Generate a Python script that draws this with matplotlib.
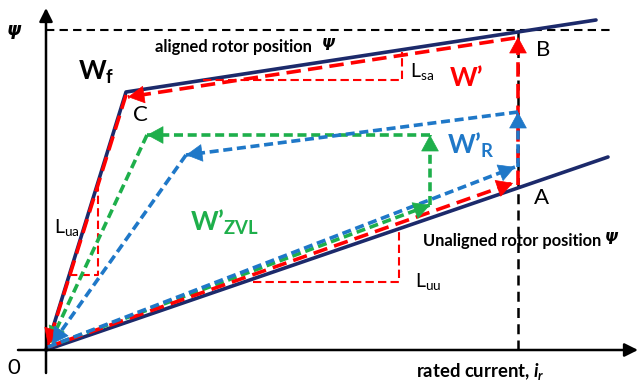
import numpy as np
import matplotlib.pyplot as plt

plt.rcParams['font.family'] = ['Lato', 'DejaVu Sans']
plt.rcParams['mathtext.fontset'] = 'custom'
plt.rcParams['mathtext.rm'] = 'Lato'
plt.rcParams['mathtext.bf'] = 'Lato:bold'
plt.rcParams['mathtext.it'] = 'Lato:italic:bold'

# flux-linkage curves (current i, flux psi)
i_rated = 472
psi_rated = 320
aligned_i = [0, 80, 550]
aligned_psi = [0, 258, 330]
unaligned_i = [0, 562]
unaligned_psi = [0, 193]

# energy loops, one leg per entry: (i_start, i_end), (psi_start, psi_end)
red_i = [(2, 467), (472, 472), (469, 82), (80, 2)]
red_psi = [(3, 167), (165, 313), (312, 253), (255, 5)]
green_i = [(2, 384), (384, 384), (384, 101), (101, 4)]
green_psi = [(3, 145), (145, 215), (215, 215), (215, 7)]
blue_i = [(2, 469), (472, 472), (472, 140), (140, 6)]
blue_psi = [(3, 183), (183, 238), (238, 195), (195, 6)]

# slope triangles
lua_i = [23, 52, 52]
lua_psi = [75, 75, 168]
lsa_i = [157, 356, 356]
lsa_psi = [270, 270, 298]
luu_i = [207, 353, 353]
luu_psi = [68, 68, 118]

navy = '#1C2A6B'
red = '#FF0000'
green = '#1EAF4B'
blue = '#1F78C8'

fig = plt.figure(figsize=(6.4, 3.87), dpi=100)
ax = fig.add_axes([0, 0, 1, 1])
ax.set_xlim(-46, 594)
ax.set_ylim(-37, 350)
ax.axis('off')

# axes with arrows
ax.annotate('', xy=(592, 0), xytext=(-28, 0),
            arrowprops=dict(arrowstyle='-|>,head_length=0.5,head_width=0.25',
                            color='black', lw=1.8, shrinkA=0, shrinkB=0, mutation_scale=16))
ax.annotate('', xy=(0, 342), xytext=(0, -23),
            arrowprops=dict(arrowstyle='-|>,head_length=0.5,head_width=0.25',
                            color='black', lw=1.8, shrinkA=0, shrinkB=0, mutation_scale=16))

# rated lines
ax.plot([0, 564], [psi_rated, psi_rated], color='black', lw=1.5, dashes=(4, 2.5))
ax.plot([i_rated, i_rated], [0, psi_rated], color='black', lw=1.8, dashes=(4, 2.5))

# curves
ax.plot(aligned_i, aligned_psi, color=navy, lw=2.6, solid_capstyle='round')
ax.plot(unaligned_i, unaligned_psi, color=navy, lw=2.6, solid_capstyle='round')

# triangles
for ti, tp in [(lua_i, lua_psi), (lsa_i, lsa_psi), (luu_i, luu_psi)]:
    ax.plot(ti, tp, color=red, lw=1.5, dashes=(4, 2))


def leg(i0, i1, p0, p1, color, dashes):
    ax.plot([i0, i1], [p0, p1], color=color, lw=2.6, dashes=dashes)
    d = np.hypot(i1 - i0, p1 - p0)
    ti = i1 - (i1 - i0) / d * 12
    tp = p1 - (p1 - p0) / d * 12
    ax.annotate('', xy=(i1, p1), xytext=(ti, tp),
                arrowprops=dict(arrowstyle='-|>,head_length=0.55,head_width=0.3',
                                color=color, lw=0.5, shrinkA=0, shrinkB=0,
                                mutation_scale=20))


for (i0, i1), (p0, p1) in zip(green_i, green_psi):
    leg(i0, i1, p0, p1, green, (2.5, 1.3))
for (i0, i1), (p0, p1) in zip(red_i, red_psi):
    leg(i0, i1, p0, p1, red, (4, 2))
for (i0, i1), (p0, p1) in zip(blue_i, blue_psi):
    leg(i0, i1, p0, p1, blue, (2.5, 1.3))

# labels
ax.text(-32, 320, 'ψ', fontsize=13, fontweight='bold', style='italic',
        family='DejaVu Sans', ha='center', va='center')
ax.text(-32, -18, '0', fontsize=16, ha='center', va='center')
ax.text(109, 303, 'aligned rotor position', fontsize=11.9, fontweight='bold', va='center')
ax.text(276, 304, 'Ψ', fontsize=11, fontweight='bold', style='italic',
        family='DejaVu Sans', va='center')
ax.text(377, 109, 'Unaligned rotor position', fontsize=11.9, fontweight='bold', va='center')
ax.text(559, 110, 'Ψ', fontsize=11, fontweight='bold', style='italic',
        family='DejaVu Sans', va='center')
ax.text(370, -22, 'rated current, $i_r$', fontsize=13.3, fontweight='bold', va='center')
ax.text(32, 278, r'$\mathbf{W}_\mathbf{f}$', fontsize=19, va='center')
ax.text(94, 235, 'C', fontsize=16, ha='center', va='center')
ax.text(497, 300, 'B', fontsize=16, ha='center', va='center')
ax.text(496, 152, 'A', fontsize=16, ha='center', va='center')
ax.text(404, 272, 'W’', fontsize=19, fontweight='bold', color=red, va='center')
ax.text(401, 205, r'$\mathbf{W’}_\mathbf{R}$', fontsize=19, color=blue, va='center')
ax.text(144, 128, r'$\mathbf{W’}_\mathbf{ZVL}$', fontsize=19, color=green, va='center')
ax.text(364, 278, r'$\mathrm{L}_\mathrm{sa}$', fontsize=14, va='center')
ax.text(8, 122, r'$\mathrm{L}_\mathrm{ua}$', fontsize=14, va='center')
ax.text(369, 68, r'$\mathrm{L}_\mathrm{uu}$', fontsize=14, va='center')

fig.savefig('out.png', dpi=100)
